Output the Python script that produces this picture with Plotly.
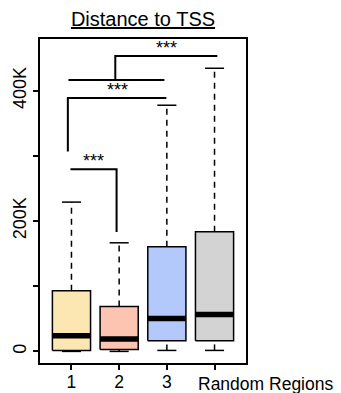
import plotly.graph_objects as go

# Summary statistics for each group (distance to TSS, bp)
groups = ["1", "2", "3", "Random Regions"]
positions = [1, 2, 3, 4]
lower_whisker = [0, 0, 1500, 1500]
q1 = [1500, 3000, 16400, 16400]
median = [24000, 19000, 50600, 56700]
q3 = [93000, 69000, 160500, 183400]
upper_whisker = [229000, 166600, 377600, 434300]
fill_colors = ["#FCE6B1", "#FCC4B1", "#B3C9FC", "#D3D3D3"]

# Significance brackets (polyline x/y in data units) and their labels
bracket_x = [
    [0.979, 1.946, 1.946],
    [0.924, 0.924, 2.99],
    [0.937, 2.949],
    [1.919, 1.919, 4.06],
]
bracket_y = [
    [279500, 279500, 183000],
    [306500, 388800, 388800],
    [416400, 416400],
    [416400, 453200, 453200],
]
star_labels = ["***", "***", "***"]
star_x = [1.46, 1.96, 2.99]
star_y = [279500, 388800, 453200]

y_tickvals = [0, 100000, 200000, 300000, 400000]
y_ticktext = ["0", "", "200K", "", "400K"]

BOX_HALF = 0.4
CAP_HALF = 0.2

fig = go.Figure()

for i, x in enumerate(positions):
    # dashed whiskers
    for a, b in ((q3[i], upper_whisker[i]), (lower_whisker[i], q1[i])):
        fig.add_trace(go.Scatter(
            x=[x, x], y=[a, b], mode="lines",
            line=dict(color="black", width=1.5, dash="6px,5px"),
            hoverinfo="skip", showlegend=False))
    # whisker caps
    for v in (upper_whisker[i], lower_whisker[i]):
        fig.add_trace(go.Scatter(
            x=[x - CAP_HALF, x + CAP_HALF], y=[v, v], mode="lines",
            line=dict(color="black", width=1.5),
            hoverinfo="skip", showlegend=False))
    # box body
    fig.add_trace(go.Scatter(
        x=[x - BOX_HALF, x + BOX_HALF, x + BOX_HALF, x - BOX_HALF, x - BOX_HALF],
        y=[q1[i], q1[i], q3[i], q3[i], q1[i]],
        mode="lines", fill="toself", fillcolor=fill_colors[i],
        line=dict(color="black", width=1.5),
        hoverinfo="skip", showlegend=False))
    # median bar
    fig.add_trace(go.Scatter(
        x=[x - BOX_HALF, x + BOX_HALF], y=[median[i], median[i]], mode="lines",
        line=dict(color="black", width=5.5),
        hoverinfo="skip", showlegend=False))

for bx, by in zip(bracket_x, bracket_y):
    fig.add_trace(go.Scatter(
        x=bx, y=by, mode="lines",
        line=dict(color="black", width=2),
        hoverinfo="skip", showlegend=False))

for lab, sx, sy in zip(star_labels, star_x, star_y):
    fig.add_annotation(x=sx, y=sy, text=lab, showarrow=False,
                       xanchor="center", yanchor="bottom", yshift=-4,
                       font=dict(family="Liberation Sans", size=18, color="black"))

fig.add_annotation(x=4, y=0, xref="x", yref="paper", text=groups[3],
                   showarrow=False, xanchor="left", yanchor="top",
                   xshift=-19, yshift=-9,
                   font=dict(family="Liberation Sans", size=17.5, color="black"))

fig.update_layout(
    width=341, height=393,
    margin=dict(l=40, r=95, t=39, b=30),
    paper_bgcolor="white", plot_bgcolor="white",
    font=dict(family="Liberation Sans", color="black"),
    title=dict(text="<u>Distance to TSS</u>", x=0.5, xref="paper",
               xanchor="center", y=1 - 19 / 393, yanchor="middle",
               font=dict(family="Liberation Sans", size=20, color="black")),
    xaxis=dict(range=[0.34, 4.66], tickvals=positions,
               ticktext=groups[:3] + [""], automargin=False,
               ticklabelstandoff=-3,
               showgrid=False, zeroline=False,
               showline=True, mirror=True, linecolor="black", linewidth=2,
               ticks="outside", ticklen=5, tickwidth=1.5, tickcolor="black",
               tickfont=dict(size=17.5, color="black")),
    yaxis=dict(range=[-17800, 479200], tickvals=y_tickvals, ticktext=y_ticktext,
               tickangle=-90, showgrid=False, zeroline=False, automargin=False,
               showline=True, mirror=True, linecolor="black", linewidth=2,
               ticks="outside", ticklen=5, tickwidth=1.5, tickcolor="black",
               tickfont=dict(size=18, color="black")),
)

fig.write_html("out.html")
